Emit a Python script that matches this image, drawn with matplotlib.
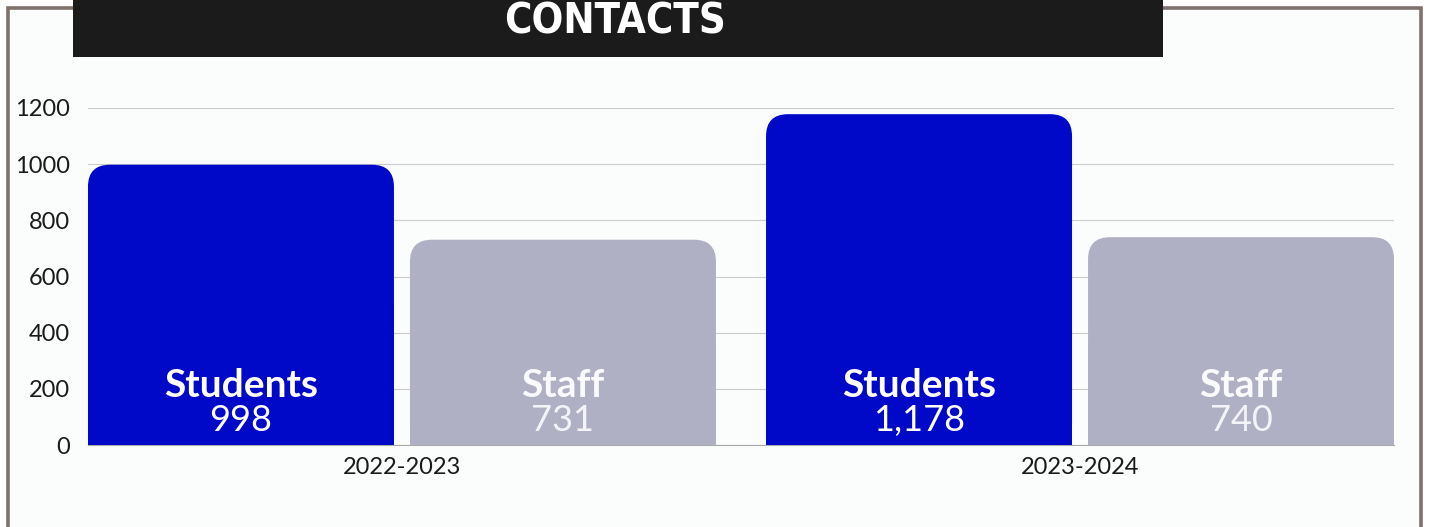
"""
Contacts by year: students vs staff
"""
import matplotlib.pyplot as plt
from matplotlib.patches import FancyBboxPatch, Rectangle

# data
years = ['2022-2023', '2023-2024']
students = [998, 1178]
staff = [731, 740]
student_labels = ['998', '1,178']
staff_labels = ['731', '740']
yticks = [0, 200, 400, 600, 800, 1000, 1200]

W, H = 1429, 527
fig = plt.figure(figsize=(W / 100, H / 100), dpi=100, facecolor='white')

# frame + light background
fig.patches.append(Rectangle((7.5 / W, -0.05), 1413 / W, 1 - 7.5 / H + 0.05,
                             transform=fig.transFigure, facecolor='#fbfcfc',
                             edgecolor='#7f716c', linewidth=2.6, zorder=-2))
# black title bar
fig.patches.append(Rectangle((73 / W, 1 - 57 / H), 1090 / W, 57 / H + 0.02,
                             transform=fig.transFigure, facecolor='#1b1b1b',
                             edgecolor='none', zorder=-1))
fig.text(615 / W, 1 - 33 / H, 'CONTACTS', color='white', ha='center', va='baseline',
         fontsize=30, fontweight='bold', fontstretch='condensed',
         family=['Liberation Sans Narrow', 'DejaVu Sans'], zorder=3)

ax_l, ax_r, ax_b, ax_t = 88, 1394, 445, 108
ax = fig.add_axes([ax_l / W, 1 - ax_b / H, (ax_r - ax_l) / W, (ax_b - ax_t) / H])
ax.set_zorder(1)
ax.set_facecolor('none')
ax.set_xlim(-0.463, 1.463)
ax.set_ylim(0, 1200)

px_x = (ax_r - ax_l) / (1.463 + 0.463)
px_y = (ax_b - ax_t) / 1200.0
width = 306 / px_x
off = 161 / px_x
r_px = 22
rx = r_px / px_x
aspect = (r_px / px_y) / rx


def rbar(xc, h, color):
    x0 = xc - width / 2
    ax.add_patch(FancyBboxPatch((x0, 0), width, h,
                                boxstyle=f"round,pad=0,rounding_size={rx}",
                                mutation_aspect=aspect, facecolor=color,
                                edgecolor='none', zorder=3))
    ax.add_patch(Rectangle((x0, 0), width, h / 2, facecolor=color,
                           edgecolor='none', zorder=3))


for i in range(len(years)):
    rbar(i - off, students[i], '#0009c8')
    rbar(i + off, staff[i], '#b0b0c5')
    ax.text(i - off, 171, 'Students', ha='center', va='baseline', color='white',
            fontsize=28, fontweight='bold', family='Lato', zorder=4)
    ax.text(i - off, 50, student_labels[i], ha='center', va='baseline', color='white',
            fontsize=26, fontweight='normal', family='Lato', zorder=4)
    ax.text(i + off, 171, 'Staff', ha='center', va='baseline', color='#fafafc',
            fontsize=28, fontweight='bold', family='Lato', zorder=4)
    ax.text(i + off, 50, staff_labels[i], ha='center', va='baseline', color='#f4f4f8',
            fontsize=26, fontweight='normal', family='Lato', zorder=4)

ax.set_yticks(yticks)
ax.set_xticks(range(len(years)))
ax.set_xticklabels(years)
ax.grid(axis='y', color='#cccccc', linewidth=0.8, zorder=1)
ax.set_axisbelow(True)
for s in ['top', 'right', 'left']:
    ax.spines[s].set_visible(False)
ax.spines['bottom'].set_color('#aaaaaa')
ax.tick_params(axis='both', length=0, labelsize=17, labelcolor='#1a1a1a')
ax.tick_params(axis='y', pad=13)
ax.tick_params(axis='x', pad=9)
for lab in ax.get_xticklabels() + ax.get_yticklabels():
    lab.set_family('Lato')

fig.savefig('out.png', dpi=100)
